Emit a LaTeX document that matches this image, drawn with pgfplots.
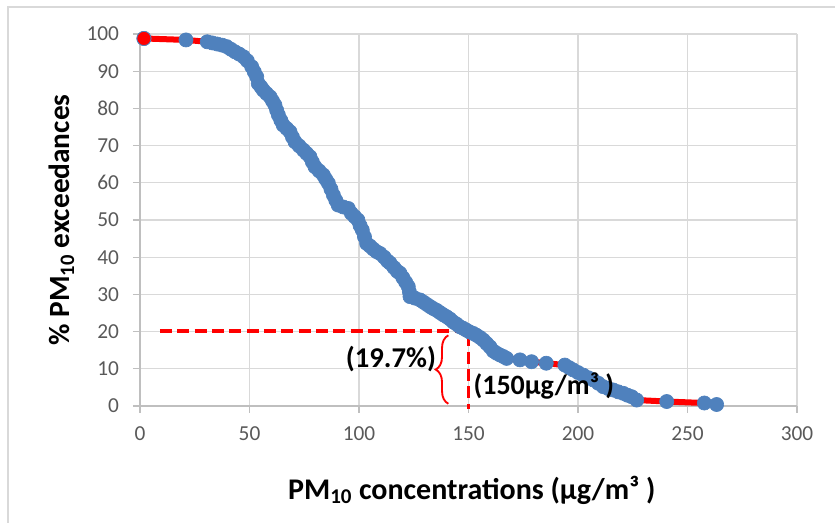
\documentclass[border=0pt]{standalone}
\usepackage{fontspec}
\setmainfont{Carlito}
\usepackage{pgfplots}
\pgfplotsset{compat=1.18}
\usetikzlibrary{decorations.pathreplacing}
\definecolor{exblue}{HTML}{4F81BD}
\definecolor{gridgray}{HTML}{D9D9D9}
\definecolor{axgray}{HTML}{BFBFBF}
\definecolor{ticktext}{HTML}{595959}
\begin{document}
\begin{tikzpicture}
\useasboundingbox (0pt,0pt) rectangle (626.25pt,392.25pt);
\draw[gridgray, line width=0.9pt] (6pt,0pt) -- (6pt,387pt) -- (626.25pt,387pt);
\begin{axis}[
  at={(105pt,87.75pt)}, anchor=south west,
  scale only axis, width=492.75pt, height=279pt,
  xmin=0, xmax=300, ymin=0, ymax=100,
  xtick={0,50,...,300}, ytick={0,10,...,100},
  grid=major, major grid style={gridgray, line width=0.9pt},
  axis x line*=bottom, axis y line*=left,
  axis line style={axgray, line width=0.9pt, -},
  tick style={axgray, line width=0.9pt},
  tick align=outside, major tick length=5.25pt,
  tick label style={font=\fontsize{16}{16}\selectfont, text=ticktext},
  /pgf/number format/assume math mode=true,
  yticklabel style={xshift=-7pt},
  xticklabel style={yshift=-7pt},
  xlabel={\textbf{PM\textsubscript{10} concentrations (µg/m³ )}},
  ylabel={\textbf{\% PM\textsubscript{10} exceedances}},
  every axis x label/.style={at={(axis description cs:0.505,-0.226)}, anchor=center, font=\fontsize{22.5}{22.5}\selectfont},
  every axis y label/.style={at={(axis description cs:-0.119,0.5)}, anchor=center, rotate=90, font=\fontsize{22}{22}\selectfont},
  clip=false,
]
\addplot[red, line width=4.5pt, mark=*, mark size=5.3pt,
  mark options={fill=exblue, draw=exblue, line width=0.5pt}] coordinates {
(1.8,98.8) (21,98.4) (30.7,97.9) (33,97.6) (35.3,97.3) (37.5,97.0) (39.6,96.6)
(41.5,95.9) (43.4,95.2) (45.3,94.6) (47.2,93.9) (49,92.8) (51,91.2) (52.2,89.8)
(53.3,88.5) (54,86.7) (55.2,85.8) (56.3,84.9) (57.8,84.0) (59.4,83.1) (60.5,82.0)
(61.6,80.9) (62.4,79.5) (63.2,78.2) (64.3,76.8) (65.4,75.5) (67,74.6) (68.5,73.7)
(69.6,72.3) (70.8,71) (72.7,69.9) (74.6,68.8) (76.1,67.9) (77.6,67) (78.7,65.6)
(79.9,64.3) (81.8,63.2) (83.7,62.1) (84.8,61) (86,59.9) (87.2,58.3) (88.3,56.7)
(89.4,55.3) (90.5,54) (92.8,53.5) (95.1,53.1) (96.5,51.8) (98,50.9) (99.5,50)
(100.5,48.5) (101.5,47.3) (102.5,45.5) (103.5,43.7) (105,43) (106.5,42.2)
(108,41.5) (109.6,41) (111.5,40) (113,39) (114.2,38.4) (116,37.2) (117.5,36.2)
(118.7,35.7) (120,34.5) (121.3,33.3) (122.5,32.1) (123,30.7) (123.3,29.4)
(125.5,29) (127.9,28.5) (129.5,27.9) (131,27.3) (132.5,26.7) (133.9,26.2)
(135.5,25.7) (137,25.1) (138.5,24.5) (140,24) (141.5,23.4) (143,22.6) (144.6,22)
(146.1,21.3) (147.5,20.9) (149,20.4) (150.5,19.9) (152.2,19.5) (153.7,19)
(155.3,18.4) (156.8,17.7) (158.3,16.8) (159.8,15.9) (161.3,14.8) (162.8,14.2)
(164.4,13.7) (165.9,13.3) (167.4,12.8) (173.5,12.4) (178.8,11.9) (185.5,11.5)
(194,11) (196,10.3) (197.8,9.7) (200,9) (202.4,8.3) (204.7,7.6) (207,7)
(209.3,6.1) (211.5,5.2) (213.8,4.7) (216.1,4.3) (218.4,3.8) (220.7,3.4)
(222.6,2.9) (224.5,2.5) (226.8,1.6) (240.5,1.2) (257.7,0.8) (263.3,0.4)
};
\addplot[only marks, mark=*, mark size=5.3pt,
  mark options={fill=red, draw=exblue, line width=0.6pt}] coordinates {(1.8,98.8)};
\addplot[red, line width=2.5pt, dash pattern=on 9pt off 4pt] coordinates {
(9.1,20.2) (150,20.2) (150,-0.7)};
\coordinate (braceA) at (axis cs:140.8,0.6);
\coordinate (braceB) at (axis cs:140.8,19.0);
\coordinate (labA) at (axis cs:114.6,12.6);
\coordinate (labB) at (axis cs:152.2,5.4);
\end{axis}
\draw[red, line width=1.4pt, decorate, decoration={brace, amplitude=9.5pt}] (braceA) -- (braceB);
\node[font=\fontsize{21.5}{21.5}\selectfont\bfseries] at (labA) {(19.7\%)};
\node[font=\fontsize{21}{21}\selectfont\bfseries, anchor=west, inner sep=0pt] at (labB) {(150µg/m³ )};
\end{tikzpicture}
\end{document}
